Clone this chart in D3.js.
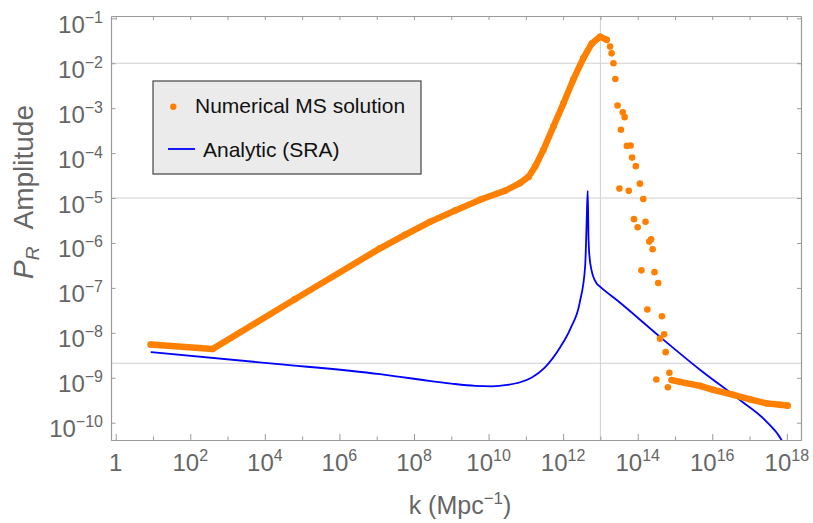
<!DOCTYPE html>
<html>
<head>
<meta charset="utf-8">
<script src="https://cdn.jsdelivr.net/npm/d3@7/dist/d3.min.js"></script>
<style>
body { margin: 0; background: #fff; }
text { font-family: "Liberation Sans", Arial, sans-serif; }
</style>
</head>
<body>
<div id="chart"></div>
<script>
// values are log10 exponents: [log10 k, log10 P_R]
var numericalRise = [
  [0.94, -8.26], [2.60, -8.36], [4.81, -7.25], [7.09, -6.12], [7.76, -5.82],
  [8.43, -5.53], [9.10, -5.28], [9.77, -5.04], [10.44, -4.84], [10.84, -4.67],
  [11.07, -4.53], [11.25, -4.30], [11.47, -3.93], [11.74, -3.41], [12.01, -2.89],
  [12.27, -2.37], [12.54, -1.89], [12.77, -1.56], [12.99, -1.41], [13.17, -1.48]
];
var numericalScatter = [
  [13.26, -1.63], [13.30, -1.78], [13.35, -2.00], [13.40, -2.35], [13.46, -2.94],
  [13.60, -3.09], [13.65, -3.20], [13.55, -3.48], [13.71, -3.84], [13.81, -3.83],
  [13.85, -4.10], [13.95, -4.29], [13.51, -4.79], [13.76, -4.84], [14.06, -4.68],
  [14.15, -5.02], [13.90, -5.47], [14.00, -5.65], [14.21, -5.53], [14.31, -5.97],
  [14.36, -5.92], [14.40, -6.14], [14.10, -6.61], [14.45, -6.65], [14.55, -6.89],
  [14.26, -7.48], [14.65, -7.63], [14.71, -8.03], [14.60, -8.13], [14.75, -8.43],
  [14.85, -8.89], [14.50, -9.04], [14.81, -9.21]
];
var numericalTail = [
  [14.91, -9.05], [15.13, -9.09], [15.67, -9.18], [16.03, -9.27], [16.57, -9.38],
  [17.01, -9.48], [17.46, -9.57], [17.82, -9.60], [18.02, -9.62]
];
var analyticSRA = [
  [0.94, -8.43], [4.29, -8.69], [7.09, -8.92], [7.63, -8.98], [8.24, -9.05],
  [9.00, -9.13], [9.64, -9.18], [10.10, -9.19], [10.50, -9.16], [10.85, -9.10],
  [11.15, -9.00], [11.50, -8.78], [11.93, -8.31], [12.20, -7.90], [12.45, -7.31],
  [12.59, -6.53], [12.62, -5.86], [12.64, -5.27], [12.66, -4.84], [12.68, -5.85],
  [12.70, -6.23], [12.76, -6.60], [12.90, -6.90], [12.99, -6.97], [13.44, -7.27],
  [14.60, -8.09], [15.67, -8.82], [16.75, -9.50], [17.46, -9.98], [17.86, -10.39],
  [18.00, -10.65]
];
var xTicks = [0, 1, 2, 3, 4, 5, 6, 7, 8, 9, 10, 11, 12, 13, 14, 15, 16, 17, 18];
var xLabels = [0, 2, 4, 6, 8, 10, 12, 14, 16, 18];
var yTicks = [-1, -2, -3, -4, -5, -6, -7, -8, -9, -10];
var gridX = [1e13];
var gridY = [1e-2, 1e-5, 2.1e-9];
var legendItems = ["Numerical MS solution", "Analytic (SRA)"];

var W = 813, H = 523;
var L = 111, R = 801, T = 16, B = 440;

var svg = d3.select("#chart").append("svg").attr("width", W).attr("height", H);

var x = d3.scaleLog().domain([Math.pow(10, -0.126), Math.pow(10, 18.38)]).range([L, R]);
var y = d3.scaleLog().domain([Math.pow(10, -10.385), Math.pow(10, -0.949)]).range([B, T]);
function px(d) { return x(Math.pow(10, d[0])); }
function py(d) { return y(Math.pow(10, d[1])); }

svg.append("clipPath").attr("id", "plotclip")
  .append("rect").attr("x", L).attr("y", T).attr("width", R - L).attr("height", B - T);

// grid
svg.selectAll(".gy").data(gridY).enter().append("line")
  .attr("x1", L).attr("x2", R).attr("y1", function(d){ return y(d); }).attr("y2", function(d){ return y(d); })
  .attr("stroke", "#cfcfcf").attr("stroke-width", 1);
svg.selectAll(".gx").data(gridX).enter().append("line")
  .attr("y1", T).attr("y2", B).attr("x1", function(d){ return x(d); }).attr("x2", function(d){ return x(d); })
  .attr("stroke", "#cfcfcf").attr("stroke-width", 1);

var plot = svg.append("g").attr("clip-path", "url(#plotclip)");
var orange = "#ff8000";

var smooth = d3.line().x(px).y(py).curve(d3.curveMonotoneX);
plot.append("path").datum(analyticSRA)
  .attr("d", smooth)
  .attr("fill", "none").attr("stroke", "#0000ff").attr("stroke-width", 1.8);

var straight = d3.line().x(px).y(py);
[numericalRise, numericalTail].forEach(function(seg){
  plot.append("path").datum(seg).attr("d", straight)
    .attr("fill", "none").attr("stroke", orange).attr("stroke-width", 6.4)
    .attr("stroke-linecap", "round").attr("stroke-linejoin", "round");
});
plot.selectAll(".dot").data(numericalRise.concat(numericalScatter, numericalTail)).enter().append("circle")
  .attr("cx", px).attr("cy", py).attr("r", 3.3).attr("fill", orange);

// frame + ticks
var frameColor = "#9a9a9a";
function styleAxis(g) {
  g.selectAll("path").attr("stroke", frameColor).attr("stroke-width", 1.2);
  g.selectAll("line").attr("stroke", frameColor).attr("stroke-width", 1);
}
var allX = xTicks.map(function(e){ return Math.pow(10, e); });
var majorX = xLabels.map(function(e){ return Math.pow(10, e); });
var minorX = allX.filter(function(v){ return majorX.indexOf(v) < 0; });
var allY = yTicks.map(function(e){ return Math.pow(10, e); });

svg.append("g").attr("transform", "translate(0," + B + ")")
  .call(d3.axisBottom(x).tickValues(majorX).tickSize(-6).tickSizeOuter(0).tickFormat(""))
  .call(styleAxis);
svg.append("g").attr("transform", "translate(0," + B + ")")
  .call(d3.axisBottom(x).tickValues(minorX).tickSize(-3.5).tickSizeOuter(0).tickFormat(""))
  .call(styleAxis);
svg.append("g").attr("transform", "translate(0," + T + ")")
  .call(d3.axisTop(x).tickValues(allX).tickSize(-4).tickSizeOuter(0).tickFormat(""))
  .call(styleAxis);
svg.append("g").attr("transform", "translate(" + L + ",0)")
  .call(d3.axisLeft(y).tickValues(allY).tickSize(-4.5).tickSizeOuter(0).tickFormat(""))
  .call(styleAxis);
svg.append("g").attr("transform", "translate(" + R + ",0)")
  .call(d3.axisRight(y).tickValues(allY).tickSize(-4).tickSizeOuter(0).tickFormat(""))
  .call(styleAxis);

// tick labels
var labelColor = "#666";
xLabels.forEach(function(e){
  var t = svg.append("text").attr("x", x(Math.pow(10, e))).attr("y", 471)
    .attr("text-anchor", "middle").attr("font-size", 24).attr("fill", labelColor);
  if (e === 0) { t.text("1"); return; }
  t.append("tspan").text("10");
  t.append("tspan").attr("font-size", 16).attr("dy", -10).text(e);
});
yTicks.forEach(function(e){
  var t = svg.append("text").attr("x", 103).attr("y", y(Math.pow(10, e)) + 14.5)
    .attr("text-anchor", "end").attr("font-size", 24).attr("fill", labelColor);
  t.append("tspan").text("10");
  t.append("tspan").attr("font-size", 16).attr("dy", -10).text("\u2212" + (-e));
});

// axis titles
var xt = svg.append("text").attr("x", (L + R) / 2 + 4).attr("y", 514)
  .attr("text-anchor", "middle").attr("font-size", 25).attr("fill", labelColor);
xt.append("tspan").text("k (Mpc");
xt.append("tspan").attr("font-size", 17).attr("dy", -10).text("\u22121");
xt.append("tspan").attr("dy", 10).text(")");

var yt = svg.append("text").attr("transform", "translate(33,192) rotate(-90)")
  .attr("text-anchor", "middle").attr("font-size", 28).attr("fill", labelColor);
yt.append("tspan").attr("font-style", "italic").text("P");
yt.append("tspan").attr("font-style", "italic").attr("font-size", 19).attr("dy", 6).text("R");
yt.append("tspan").attr("dy", -6).attr("dx", 17).text("Amplitude");

// legend
var lg = svg.append("g");
lg.append("rect").attr("x", 153).attr("y", 81).attr("width", 268).attr("height", 93)
  .attr("fill", "#ebebeb").attr("stroke", "#444").attr("stroke-width", 1.2);
lg.append("circle").attr("cx", 173.3).attr("cy", 106.7).attr("r", 3.2).attr("fill", orange);
lg.append("line").attr("x1", 168).attr("x2", 195).attr("y1", 149).attr("y2", 149)
  .attr("stroke", "#0000ff").attr("stroke-width", 1.8);
lg.append("text").attr("x", 195).attr("y", 113).attr("font-size", 21).attr("fill", "#111").text(legendItems[0]);
lg.append("text").attr("x", 203).attr("y", 157).attr("font-size", 21).attr("fill", "#111").text(legendItems[1]);
</script>
</body>
</html>
